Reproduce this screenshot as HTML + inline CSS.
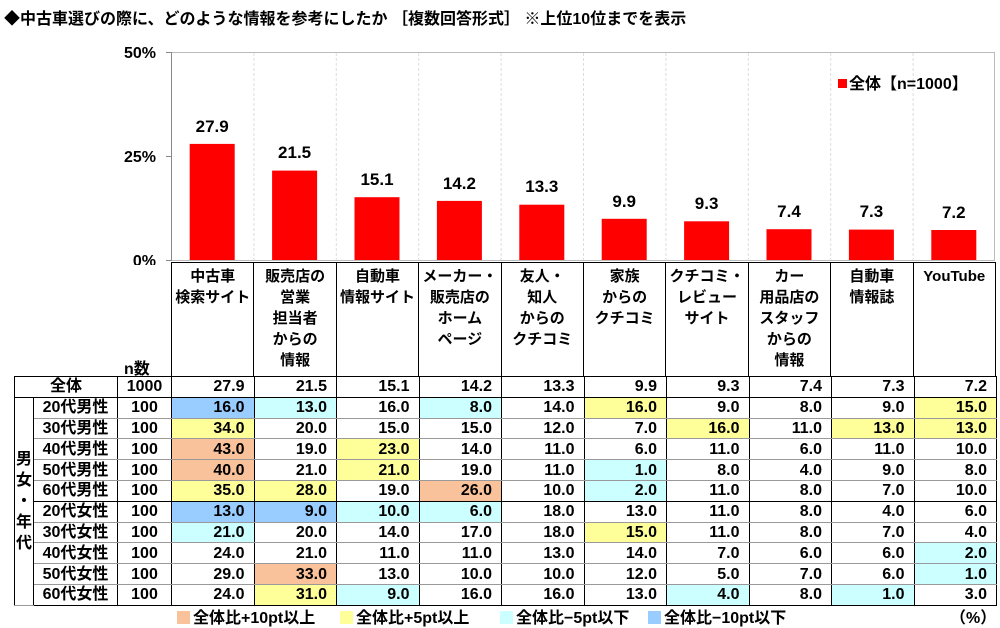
<!DOCTYPE html>
<html><head><meta charset="utf-8"><style>
body{margin:0;width:1000px;height:627px;background:#fff;position:relative;overflow:hidden;font-family:"Liberation Sans","Noto Sans CJK JP",sans-serif;font-weight:bold;color:#000}
.a{position:absolute}
table{border-collapse:collapse;table-layout:fixed;position:absolute}
td{padding:0;font-size:16px;line-height:19px;height:19.8px;border:1px solid #000;white-space:nowrap;overflow:hidden}
.r td{border-top:1px solid #999;border-bottom:1px solid #999}
td.v{text-align:right;padding-right:9px}
.o{background:#F9C29A}.y{background:#FFFF99}.c{background:#CCFFFF}.b{background:#99CCFF}
.h td{height:110px;vertical-align:top;text-align:center;font-size:15px;line-height:21px;padding-top:3px}
.lg{position:absolute;top:604px;font-size:16px}
.sq{display:inline-block;width:13px;height:13px;margin-right:3px;vertical-align:-1px}
</style></head><body>
<div class="a" style="left:4px;top:5px;font-size:16px">◆中古車選びの際に、どのような情報を参考にしたか ［複数回答形式］ ※上位10位までを表示</div>
<svg class="a" style="left:0;top:0" width="1000" height="265">
<rect x="171.5" y="52.5" width="823" height="208" fill="none" stroke="#bbb"/>
<g stroke="#ddd" stroke-dasharray="3,2">
<line x1="253.9" y1="53" x2="253.9" y2="260"/><line x1="336.3" y1="53" x2="336.3" y2="260"/><line x1="418.7" y1="53" x2="418.7" y2="260"/><line x1="501.1" y1="53" x2="501.1" y2="260"/><line x1="583.5" y1="53" x2="583.5" y2="260"/><line x1="665.9" y1="53" x2="665.9" y2="260"/><line x1="748.3" y1="53" x2="748.3" y2="260"/><line x1="830.7" y1="53" x2="830.7" y2="260"/><line x1="913.1" y1="53" x2="913.1" y2="260"/>
</g>
<line x1="171.5" y1="52" x2="171.5" y2="261" stroke="#888"/>
<g stroke="#888"><line x1="166" y1="52.5" x2="171" y2="52.5"/><line x1="166" y1="156.5" x2="171" y2="156.5"/><line x1="166" y1="260.5" x2="171" y2="260.5"/></g>
<g font-size="16" text-anchor="end" font-family="Liberation Sans" font-weight="bold"><text x="156" y="58">50%</text><text x="156" y="162">25%</text><text x="156" y="266">0%</text></g>
<g fill="#f00">
<rect x="189.7" y="143.9" width="45" height="116.1"/>
<rect x="272.1" y="170.6" width="45" height="89.4"/>
<rect x="354.5" y="197.2" width="45" height="62.8"/>
<rect x="436.9" y="200.9" width="45" height="59.1"/>
<rect x="519.3" y="204.7" width="45" height="55.3"/>
<rect x="601.7" y="218.8" width="45" height="41.2"/>
<rect x="684.1" y="221.3" width="45" height="38.7"/>
<rect x="766.5" y="229.2" width="45" height="30.8"/>
<rect x="848.9" y="229.6" width="45" height="30.4"/>
<rect x="931.3" y="230.0" width="45" height="30.0"/>
</g>
<g font-size="17" text-anchor="middle" font-family="Liberation Sans" font-weight="bold">
<text x="212.2" y="132">27.9</text><text x="294.6" y="158">21.5</text><text x="377" y="185">15.1</text><text x="459.4" y="189">14.2</text><text x="541.8" y="192">13.3</text><text x="624.2" y="207">9.9</text><text x="706.6" y="209">9.3</text><text x="789" y="217">7.4</text><text x="871.4" y="217">7.3</text><text x="953.8" y="218">7.2</text>
</g>
<rect x="838" y="79" width="9" height="9" fill="#f00"/>
<text x="849" y="89" font-size="16" font-family="Liberation Sans,Noto Sans CJK JP" font-weight="bold">全体【n=1000】</text>
</svg>
<div class="a" style="left:124px;top:355px;font-size:16px">n数</div>
<table style="left:171px;top:262px;width:825px" class="h">
<colgroup><col span="10" style="width:82.4px"></colgroup>
<tr><td>中古車<br>検索サイト</td><td>販売店の<br>営業<br>担当者<br>からの<br>情報</td><td>自動車<br>情報サイト</td><td>メーカー・<br>販売店の<br>ホーム<br>ページ</td><td>友人・<br>知人<br>からの<br>クチコミ</td><td>家族<br>からの<br>クチコミ</td><td>クチコミ・<br>レビュー<br>サイト</td><td>カー<br>用品店の<br>スタッフ<br>からの<br>情報</td><td>自動車<br>情報誌</td><td>YouTube</td></tr>
</table>
<table style="left:14px;top:376px;width:982px">
<colgroup><col style="width:19px"><col style="width:84px"><col style="width:54px"><col span="10" style="width:82.5px"></colgroup>
<tr><td colspan="2" style="text-align:center">全体</td><td style="text-align:center">1000</td><td class="v">27.9</td><td class="v">21.5</td><td class="v">15.1</td><td class="v">14.2</td><td class="v">13.3</td><td class="v">9.9</td><td class="v">9.3</td><td class="v">7.4</td><td class="v">7.3</td><td class="v">7.2</td></tr>
<tr class="r"><td rowspan="10" style="vertical-align:middle;text-align:center;white-space:normal;line-height:21px;font-size:16px">男<br>女<br>・<br>年<br>代</td><td style="text-align:center">20代男性</td><td style="text-align:center">100</td><td class="v b">16.0</td><td class="v c">13.0</td><td class="v">16.0</td><td class="v c">8.0</td><td class="v">14.0</td><td class="v y">16.0</td><td class="v">9.0</td><td class="v">8.0</td><td class="v">9.0</td><td class="v y">15.0</td></tr>
<tr class="r"><td style="text-align:center">30代男性</td><td style="text-align:center">100</td><td class="v y">34.0</td><td class="v">20.0</td><td class="v">15.0</td><td class="v">15.0</td><td class="v">12.0</td><td class="v">7.0</td><td class="v y">16.0</td><td class="v">11.0</td><td class="v y">13.0</td><td class="v y">13.0</td></tr>
<tr class="r"><td style="text-align:center">40代男性</td><td style="text-align:center">100</td><td class="v o">43.0</td><td class="v">19.0</td><td class="v y">23.0</td><td class="v">14.0</td><td class="v">11.0</td><td class="v">6.0</td><td class="v">11.0</td><td class="v">6.0</td><td class="v">11.0</td><td class="v">10.0</td></tr>
<tr class="r"><td style="text-align:center">50代男性</td><td style="text-align:center">100</td><td class="v o">40.0</td><td class="v">21.0</td><td class="v y">21.0</td><td class="v">19.0</td><td class="v">11.0</td><td class="v c">1.0</td><td class="v">8.0</td><td class="v">4.0</td><td class="v">9.0</td><td class="v">8.0</td></tr>
<tr class="r"><td style="text-align:center;border-bottom:1px solid #000">60代男性</td><td style="text-align:center;border-bottom:1px solid #000">100</td><td class="v y" style="border-bottom:1px solid #000">35.0</td><td class="v y" style="border-bottom:1px solid #000">28.0</td><td class="v" style="border-bottom:1px solid #000">19.0</td><td class="v o" style="border-bottom:1px solid #000">26.0</td><td class="v" style="border-bottom:1px solid #000">10.0</td><td class="v c" style="border-bottom:1px solid #000">2.0</td><td class="v" style="border-bottom:1px solid #000">11.0</td><td class="v" style="border-bottom:1px solid #000">8.0</td><td class="v" style="border-bottom:1px solid #000">7.0</td><td class="v" style="border-bottom:1px solid #000">10.0</td></tr>
<tr class="r"><td style="text-align:center;border-top:1px solid #000">20代女性</td><td style="text-align:center;border-top:1px solid #000">100</td><td class="v b" style="border-top:1px solid #000">13.0</td><td class="v b" style="border-top:1px solid #000">9.0</td><td class="v c" style="border-top:1px solid #000">10.0</td><td class="v c" style="border-top:1px solid #000">6.0</td><td class="v" style="border-top:1px solid #000">18.0</td><td class="v" style="border-top:1px solid #000">13.0</td><td class="v" style="border-top:1px solid #000">11.0</td><td class="v" style="border-top:1px solid #000">8.0</td><td class="v" style="border-top:1px solid #000">4.0</td><td class="v" style="border-top:1px solid #000">6.0</td></tr>
<tr class="r"><td style="text-align:center">30代女性</td><td style="text-align:center">100</td><td class="v c">21.0</td><td class="v">20.0</td><td class="v">14.0</td><td class="v">17.0</td><td class="v">18.0</td><td class="v y">15.0</td><td class="v">11.0</td><td class="v">8.0</td><td class="v">7.0</td><td class="v">4.0</td></tr>
<tr class="r"><td style="text-align:center">40代女性</td><td style="text-align:center">100</td><td class="v">24.0</td><td class="v">21.0</td><td class="v">11.0</td><td class="v">11.0</td><td class="v">13.0</td><td class="v">14.0</td><td class="v">7.0</td><td class="v">6.0</td><td class="v">6.0</td><td class="v c">2.0</td></tr>
<tr class="r"><td style="text-align:center">50代女性</td><td style="text-align:center">100</td><td class="v">29.0</td><td class="v o">33.0</td><td class="v">13.0</td><td class="v">10.0</td><td class="v">10.0</td><td class="v">12.0</td><td class="v">5.0</td><td class="v">7.0</td><td class="v">6.0</td><td class="v c">1.0</td></tr>
<tr class="r"><td style="text-align:center;border-bottom:1px solid #000">60代女性</td><td style="text-align:center;border-bottom:1px solid #000">100</td><td class="v" style="border-bottom:1px solid #000">24.0</td><td class="v y" style="border-bottom:1px solid #000">31.0</td><td class="v c" style="border-bottom:1px solid #000">9.0</td><td class="v" style="border-bottom:1px solid #000">16.0</td><td class="v" style="border-bottom:1px solid #000">16.0</td><td class="v" style="border-bottom:1px solid #000">13.0</td><td class="v c" style="border-bottom:1px solid #000">4.0</td><td class="v" style="border-bottom:1px solid #000">8.0</td><td class="v c" style="border-bottom:1px solid #000">1.0</td><td class="v" style="border-bottom:1px solid #000">3.0</td></tr>
</table>
<div class="lg" style="left:177px"><span class="sq o"></span>全体比+10pt以上</div>
<div class="lg" style="left:340px"><span class="sq y"></span>全体比+5pt以上</div>
<div class="lg" style="left:500px"><span class="sq c"></span>全体比−5pt以下</div>
<div class="lg" style="left:648px"><span class="sq b"></span>全体比−10pt以下</div>
<div class="lg" style="left:950px">（%）</div>
</body></html>
